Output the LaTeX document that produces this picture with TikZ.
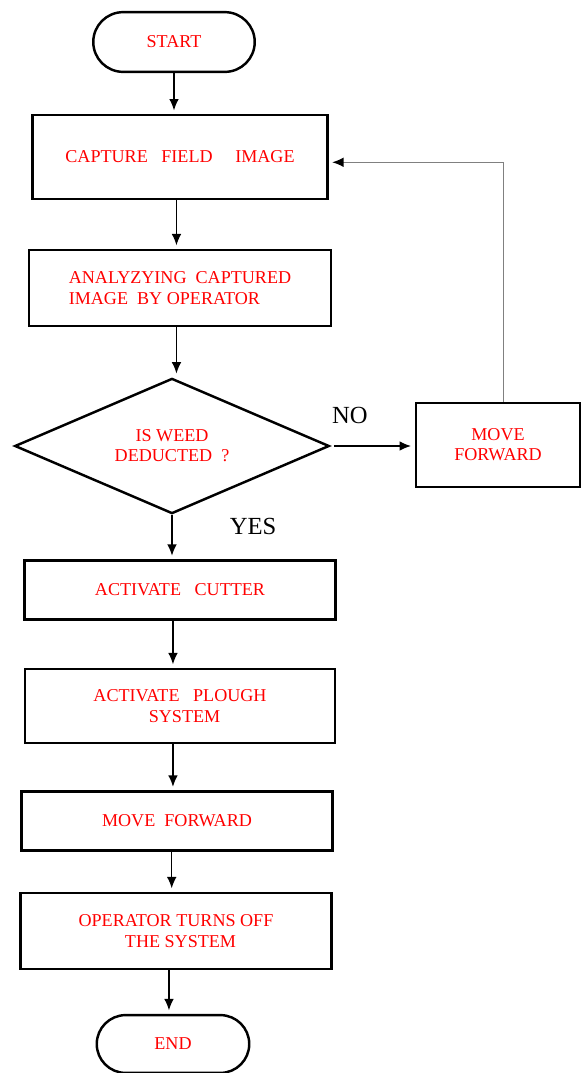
\documentclass[tikz,border=0pt]{standalone}
\usepackage{fontspec}
\setmainfont{Liberation Serif}
\usetikzlibrary{shapes.geometric,shapes.misc,arrows.meta,positioning}

\begin{document}
\begin{tikzpicture}[x=0.02cm,y=-0.02cm,>={Latex[length=6.5pt,width=5.5pt]},
  every node/.style={font=\fontsize{10.3}{11.5}\selectfont},
  box/.style={draw,line width=1.4pt,text=red,align=center,inner sep=0pt},
  term/.style={box,rounded rectangle},
  decision/.style={box,diamond,aspect=2.3},
  arr/.style={->,line width=0.85pt,shorten >=2pt},
  lbl/.style={font=\fontsize{14}{16}\selectfont}
]
  \useasboundingbox (0,0) rectangle (582,1073);

  \node[term, minimum width=91.9pt, minimum height=34pt] (start) at (174,42) {START};
  \node[box, minimum width=167.8pt, minimum height=47.6pt] (capture) at (180,157)
    {CAPTURE\ \ \ FIELD\ \ \ \ \ IMAGE};
  \node[box, minimum width=171.8pt, minimum height=43.1pt, align=left] (analyze) at (180,288)
    {ANALYZYING\ \ CAPTURED\\IMAGE\ \ BY OPERATOR};
  \node[decision, minimum width=179pt, minimum height=77pt] (decide) at (172,446)
    {IS WEED\\DEDUCTED\ \ ?};
  \node[box, minimum width=93.6pt, minimum height=47.6pt] (back) at (498,445)
    {MOVE\\FORWARD};
  \node[box, minimum width=176.9pt, minimum height=33.5pt] (cutter) at (180,590)
    {ACTIVATE\ \ \ CUTTER};
  \node[box, minimum width=176.3pt, minimum height=42pt] (plough) at (180,706)
    {ACTIVATE\ \ \ PLOUGH\\\ \ SYSTEM};
  \node[box, minimum width=176.9pt, minimum height=33.5pt] (forward) at (177,821)
    {MOVE\ \ FORWARD};
  \node[box, minimum width=176.9pt, minimum height=43.1pt] (stop) at (176,931)
    {OPERATOR TURNS OFF\\\ \ THE SYSTEM};
  \node[term, minimum width=86.8pt, minimum height=32.9pt] (end) at (173,1044) {END};

  \node[lbl] (no) at (350,415) {NO};
  \node[lbl] (yes) at (253,526) {YES};

  % main column
  \draw[arr] (start.south) -- (start.south |- capture.north);
  \draw[arr] ([xshift=-2pt]capture.south) -- ([xshift=-2pt]capture.south |- analyze.north);
  \draw[arr] ([xshift=-2pt]analyze.south) -- ([xshift=-2pt]analyze.south |- decide.north);
  \draw[arr] (decide.south) -- (decide.south |- cutter.north);
  \draw[arr] ([xshift=-4pt]cutter.south) -- ([xshift=-4pt]cutter.south |- plough.north);
  \draw[arr] ([xshift=-4pt]plough.south) -- ([xshift=-4pt]plough.south |- forward.north);
  \draw[arr] ([xshift=-3pt]forward.south) -- ([xshift=-3pt]forward.south |- stop.north);
  \draw[arr] ([xshift=-4pt]stop.south) -- ([xshift=-4pt]stop.south |- end.north);

  % no branch and loop back
  \draw[arr, shorten <=2pt] (decide.east) -- (decide.east -| back.west);
  \draw[-{Latex[length=6.5pt,width=5.5pt,color=black]}, gray, line width=0.8pt, shorten >=2pt]
    ([xshift=3pt]back.north) |- ([yshift=-3pt]capture.east);
\end{tikzpicture}
\end{document}
